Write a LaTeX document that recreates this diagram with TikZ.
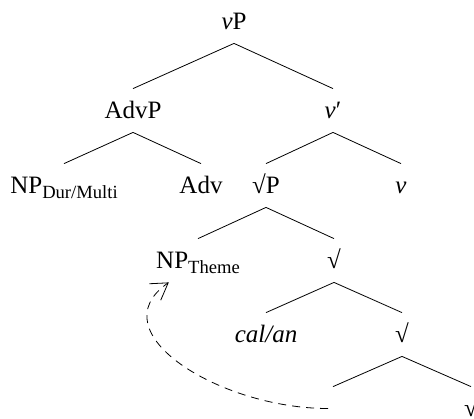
\documentclass[tikz,border=0pt]{standalone}
\usepackage{fontspec}
\setmainfont{Liberation Serif}
\usetikzlibrary{arrows.meta}
\newcommand{\sub}[1]{\raisebox{-2.5pt}{\fontsize{9.3}{10}\selectfont #1}}
\tikzset{
    every node/.style={inner sep=0pt, anchor=base, text height=14.5pt,
    	text depth=7pt, font=\fontsize{12.5}{14}\selectfont}
}
\tikzset{move/.style={dashed, dash pattern=on 4pt off 3pt,
    -{Straight Barb[length=8pt, width=10pt]}}}

\begin{document}
\begin{tikzpicture}[x=0.5pt, y=-0.5pt]
  \useasboundingbox (0,0) rectangle (474,418);
  \node (vp) at (234,29) {\textit{v}P};
  \node (advp) at (133,118) {AdvP};
  \node (vbar) at (333,118) {\textit{v}′};
  \node (npd) at (64,193) {NP\sub{Dur/Multi}};
  \node (adv) at (201,193) {Adv};
  \node (rp) at (266,193) {√P};
  \node (v) at (401,193) {\textit{v}};
  \node (npt) at (198,268) {NP\sub{Theme}};
  \node (r1) at (334,268) {√};
  \node (cal) at (266,342) {\textit{cal/an}};
  \node (r2) at (402,342) {√};
  \node (t) at (333,416) {};
  \node (r3) at (471,416) {√};

  \draw (vp.south) edge (advp.north);
  \draw (vp.south) edge (vbar.north);

  \draw (advp.south) edge (npd.north);
  \draw (advp.south) edge (adv.north);
  \draw (vbar.south) edge (rp.north);
  \draw (vbar.south) edge (v.north);

  \draw (rp.south) edge (npt.north);
  \draw (rp.south) edge (r1.north);

  \draw (r1.south) edge (cal.north);
  \draw (r1.south) edge (r2.north);

  \draw (r2.south) edge (t.north);
  \draw (r2.south) edge (r3.north);

  % movement of the theme
  \draw[move] ([xshift=-2.5pt]t.center) .. controls +(-108,0) and +(-72,50)
    .. ([xshift=6.5pt]npt.south west);
\end{tikzpicture}
\end{document}
